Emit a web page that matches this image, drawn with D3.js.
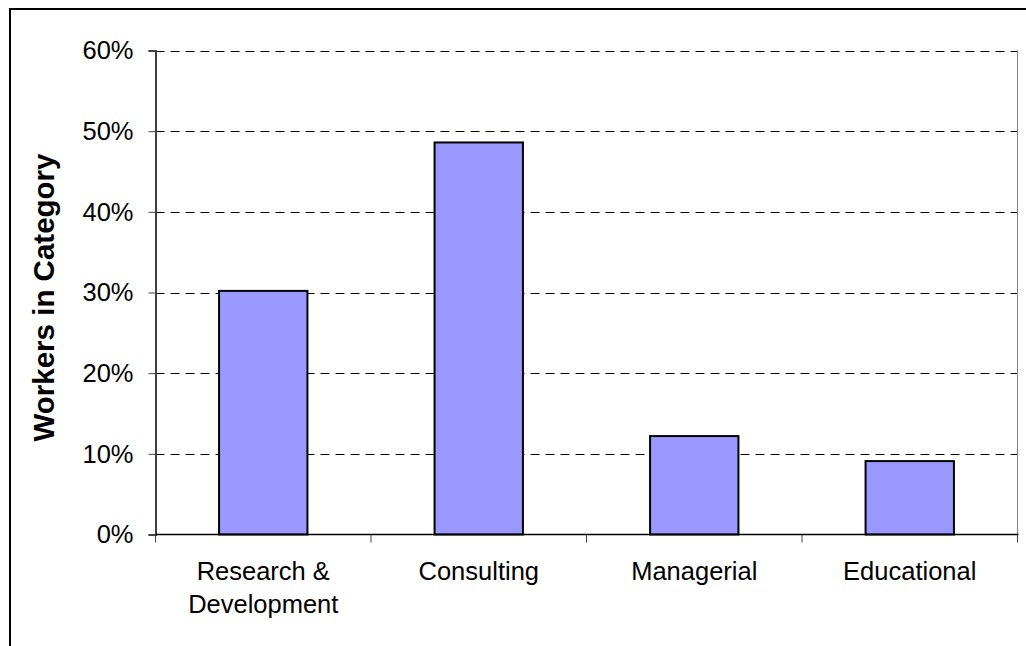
<!DOCTYPE html>
<html>
<head>
<meta charset="utf-8">
<script src="https://cdn.jsdelivr.net/npm/d3@7"></script>
<style>
  html, body { margin: 0; padding: 0; background: #fff; }
  svg { display: block; font-family: "Liberation Sans", Arial, sans-serif; }
</style>
</head>
<body>
<svg id="chart" width="1026" height="646"></svg>
<script>
// Share of workers by job category (percent)
const categories = [["Research &", "Development"], ["Consulting"], ["Managerial"], ["Educational"]];
const shares = [30.2, 48.6, 12.2, 9.1];
const yTicks = [0, 10, 20, 30, 40, 50, 60];
const yTitle = "Workers in Category";

const svg = d3.select("#chart");

// outer frame of the chart object
svg.append("rect")
  .attr("x", 10).attr("y", 9)
  .attr("width", 1030).attr("height", 660)
  .attr("fill", "#fff").attr("stroke", "#000").attr("stroke-width", 2);

const plot = { left: 155.5, right: 1017.5, top: 50.5, bottom: 534.5 };

const x = d3.scaleBand()
  .domain(d3.range(categories.length))
  .range([plot.left, plot.right])
  .paddingInner(0.59)
  .paddingOuter(0.295);

const y = d3.scaleLinear().domain([0, 60]).range([plot.bottom, plot.top]);

// horizontal dashed gridlines
svg.append("g")
  .selectAll("line")
  .data(yTicks.filter(t => t > 0))
  .join("line")
  .attr("x1", plot.left).attr("x2", plot.right)
  .attr("y1", d => Math.round(y(d)) + 0.5).attr("y2", d => Math.round(y(d)) + 0.5)
  .attr("stroke", "#000").attr("stroke-width", 1)
  .attr("stroke-dasharray", "9,6");

// right edge of the plot area
svg.append("line")
  .attr("x1", plot.right).attr("x2", plot.right)
  .attr("y1", plot.top).attr("y2", plot.bottom)
  .attr("stroke", "#808080").attr("stroke-width", 1);

// bars
svg.append("g")
  .selectAll("rect")
  .data(shares)
  .join("rect")
  .attr("x", (d, i) => x(i))
  .attr("y", d => y(d))
  .attr("width", x.bandwidth())
  .attr("height", d => y(0) - y(d))
  .attr("fill", "#9999FF")
  .attr("stroke", "#000").attr("stroke-width", 2);

// y axis
const yAxis = d3.axisLeft(y)
  .tickValues(yTicks)
  .tickFormat(d => d + "%")
  .tickSize(7)
  .tickPadding(15);
const gy = svg.append("g").attr("transform", `translate(${plot.left},0)`).call(yAxis);
gy.select(".domain").attr("stroke", "#404040").attr("stroke-width", 2);
gy.selectAll(".tick line").attr("stroke", "#404040").attr("stroke-width", 1);
gy.selectAll(".tick text")
  .attr("font-size", 25.5).attr("fill", "#000")
  .attr("font-family", "Liberation Sans, Arial, sans-serif");

// x axis: baseline with ticks at category boundaries
const xBase = svg.append("g");
xBase.append("line")
  .attr("x1", plot.left).attr("x2", plot.right + 1)
  .attr("y1", plot.bottom).attr("y2", plot.bottom)
  .attr("stroke", "#000").attr("stroke-width", 1.5);
const step = x.step();
xBase.selectAll("line.tick")
  .data(d3.range(categories.length + 1))
  .join("line")
  .attr("class", "tick")
  .attr("x1", i => plot.left + i * step).attr("x2", i => plot.left + i * step)
  .attr("y1", plot.bottom).attr("y2", plot.bottom + 8)
  .attr("stroke", "#404040").attr("stroke-width", 1);

// category labels
const labels = svg.append("g")
  .attr("font-size", 25.5)
  .attr("text-anchor", "middle")
  .attr("fill", "#000");
labels.selectAll("text")
  .data(categories)
  .join("text")
  .attr("x", (d, i) => x(i) + x.bandwidth() / 2)
  .attr("y", 580)
  .each(function(lines) {
    d3.select(this).selectAll("tspan")
      .data(lines)
      .join("tspan")
      .attr("x", d3.select(this).attr("x"))
      .attr("dy", (l, j) => j === 0 ? 0 : 33)
      .text(l => l);
  });

// y axis title
svg.append("text")
  .attr("transform", `translate(54,${(plot.top + plot.bottom) / 2 + 5}) rotate(-90)`)
  .attr("text-anchor", "middle")
  .attr("font-size", 29.5)
  .attr("font-weight", "bold")
  .attr("fill", "#000")
  .text(yTitle);
</script>
</body>
</html>
